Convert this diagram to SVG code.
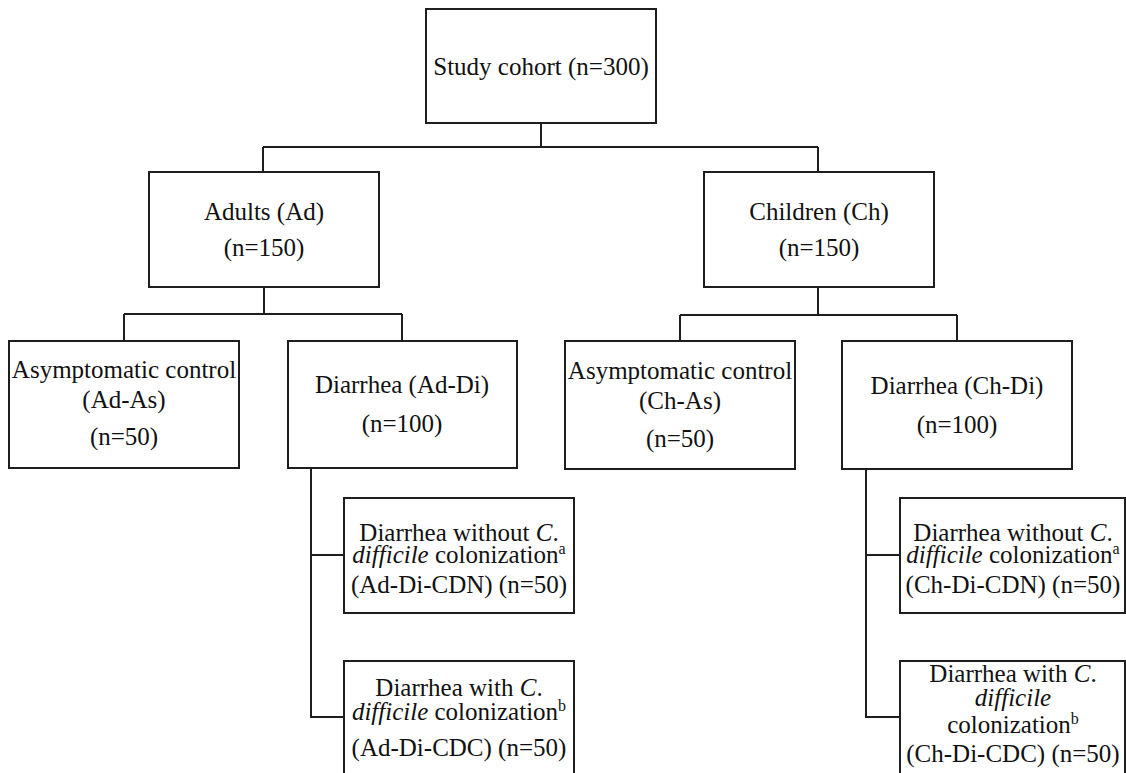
<svg xmlns="http://www.w3.org/2000/svg" width="1126" height="773" viewBox="0 0 1126 773">
<style>
.box{fill:#fff;stroke:#1e1e1e;stroke-width:2}
.conn{fill:none;stroke:#1e1e1e;stroke-width:2}
text{font-family:"Liberation Serif","Times New Roman",serif;font-size:25px;fill:#111;text-anchor:middle}
.sup{font-size:16px}
.it{font-style:italic}
</style>
<rect width="1126" height="773" fill="#fff"/>
<g id="connectors">
<path class="conn" d="M541 123V147M263 147H818M263 147V172M818 147V172"/>
<path class="conn" d="M264 287V314M124 314H402M124 314V341M402 314V341"/>
<path class="conn" d="M818 287V315M680 315H957M680 315V341M957 315V341"/>
<path class="conn" d="M311 468V717H344M311 555H344"/>
<path class="conn" d="M866 469V717H900M866 555H900"/>
</g>
<g id="study-cohort">
<rect class="box" x="426" y="9" width="230" height="114"/>
<text x="541" y="75">Study cohort (n=300)</text>
</g>
<g id="adults">
<rect class="box" x="149" y="172" width="230" height="115"/>
<text x="264" y="220">Adults (Ad)<tspan x="264" y="256">(n=150)</tspan></text>
</g>
<g id="children">
<rect class="box" x="704" y="172" width="230" height="115"/>
<text x="819" y="220">Children (Ch)<tspan x="819" y="256">(n=150)</tspan></text>
</g>
<g id="ad-as">
<rect class="box" x="9" y="341" width="230" height="127"/>
<text x="124" y="378">Asymptomatic control<tspan x="124" y="408">(Ad-As)</tspan><tspan x="124" y="445">(n=50)</tspan></text>
</g>
<g id="ad-di">
<rect class="box" x="288" y="341" width="229" height="127"/>
<text x="402" y="393">Diarrhea (Ad-Di)<tspan x="402" y="432">(n=100)</tspan></text>
</g>
<g id="ch-as">
<rect class="box" x="565" y="341" width="230" height="128"/>
<text x="680" y="379">Asymptomatic control<tspan x="680" y="409">(Ch-As)</tspan><tspan x="680" y="447">(n=50)</tspan></text>
</g>
<g id="ch-di">
<rect class="box" x="842" y="341" width="230" height="128"/>
<text x="957" y="394">Diarrhea (Ch-Di)<tspan x="957" y="433">(n=100)</tspan></text>
</g>
<g id="ad-di-cdn">
<rect class="box" x="344" y="498" width="230" height="115"/>
<text x="459" y="541">Diarrhea without <tspan class="it">C</tspan>.<tspan x="459" y="563" class="it">difficile</tspan> colonization<tspan class="sup" dy="-9">a</tspan><tspan x="459" y="593">(Ad-Di-CDN) (n=50)</tspan></text>
</g>
<g id="ad-di-cdc">
<rect class="box" x="344" y="661" width="230" height="130"/>
<text x="459" y="696">Diarrhea with <tspan class="it">C</tspan>.<tspan x="459" y="720" class="it">difficile</tspan> colonization<tspan class="sup" dy="-9">b</tspan><tspan x="459" y="756">(Ad-Di-CDC) (n=50)</tspan></text>
</g>
<g id="ch-di-cdn">
<rect class="box" x="900" y="498" width="225" height="115"/>
<text x="1013" y="541">Diarrhea without <tspan class="it">C</tspan>.<tspan x="1013" y="563" class="it">difficile</tspan> colonization<tspan class="sup" dy="-9">a</tspan><tspan x="1013" y="593">(Ch-Di-CDN) (n=50)</tspan></text>
</g>
<g id="ch-di-cdc">
<rect class="box" x="900" y="661" width="225" height="130"/>
<text x="1013" y="682">Diarrhea with <tspan class="it">C</tspan>.<tspan x="1013" y="706" class="it">difficile</tspan><tspan x="1013" y="733">colonization</tspan><tspan class="sup" dy="-9">b</tspan><tspan x="1013" y="762">(Ch-Di-CDC) (n=50)</tspan></text>
</g>
</svg>
